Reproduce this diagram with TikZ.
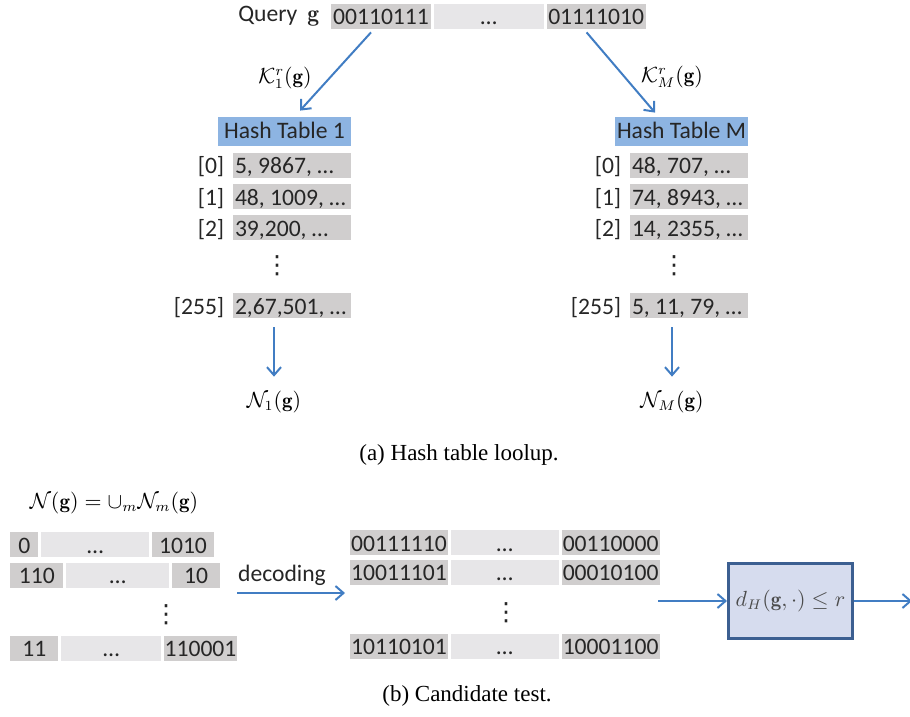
\documentclass[tikz,border=0pt]{standalone}
\usepackage{amsmath}
\usepackage{amssymb}
\usepackage{fontspec}
\usepackage{tikz}
\usetikzlibrary{arrows.meta,positioning}
\newfontfamily\calibri[Numbers=Monospaced]{Carlito}
\newfontfamily\timesf{Liberation Serif}
\newfontfamily\dejavu{DejaVu Sans}
\definecolor{celldark}{RGB}{208,206,206}
\definecolor{celllight}{RGB}{231,230,232}
\definecolor{hdrblue}{RGB}{141,180,226}
\definecolor{arrowblue}{RGB}{65,125,195}
\definecolor{boxfill}{RGB}{214,220,238}
\definecolor{boxline}{RGB}{60,95,145}
\newcommand{\cellfont}{\calibri\fontsize{11.8}{13}\selectfont}
\newcommand{\mathsz}{\fontsize{10.5}{12}\selectfont}
\newcommand{\capfont}{\timesf\fontsize{11.5}{13}\selectfont}
\newcommand{\hrow}[1]{\makebox[57pt][l]{#1}}
\tikzstyle{dcell} = [rectangle, fill=celldark, inner sep=0pt, minimum height=12.5pt, text height=10.5pt, text depth=2pt, text=black!85, font=\cellfont]
\tikzstyle{lcell} = [dcell, fill=celllight]
\tikzstyle{hcell} = [dcell, inner xsep=1pt, minimum width=59pt]
\tikzstyle{hdr} = [rectangle, fill=hdrblue, inner sep=0pt, minimum width=66.5pt, text height=11pt, text depth=3.5pt, text=black!85, font=\cellfont]
\tikzstyle{idx} = [inner sep=0pt, text height=10.5pt, text depth=2pt, text=black!85, font=\cellfont]
\tikzstyle{mlabel} = [inner sep=0pt, font=\mathsz]
\tikzstyle{vdots} = [inner sep=0pt, text=black!85, font=\dejavu\fontsize{12.5}{14}\selectfont]
\tikzstyle{testbox} = [rectangle, draw=boxline, line width=1.5pt, fill=boxfill, minimum width=62pt, minimum height=37.5pt, font=\mathsz, text=black!70]
\tikzstyle{arrow} = [line width=1pt, -{Straight Barb[length=4pt,width=7pt]}, color=arrowblue]

\begin{document}
\begin{tikzpicture}[x=0.5pt, y=-0.5pt]
\useasboundingbox (0,0) rectangle (910,717);

% Query code
\node (qa) [dcell, minimum width=50pt] at (381,16.5) {00110111};
\node (qb) [lcell, minimum width=55pt, right=1pt of qa] {…};
\node (qc) [dcell, minimum width=49.5pt, right=1pt of qb] {01111010};
\node (query) [idx, left=5.5pt of qa, yshift=1.5pt] {Query\hspace{5pt}$\mathbf{g}$};

% Hash table 1
\node (h1) [hdr] at (284.5,131.5) {Hash Table 1};
\node (h1r0) [hcell, below=3pt of h1.south east, anchor=north east] {\hrow{5, 9867, …}};
\node (h1r1) [hcell, below=2.75pt of h1r0] {\hrow{48, 1009, …}};
\node (h1r2) [hcell, below=2.75pt of h1r1] {\hrow{39,200, …}};
\node (h1r255) [hcell, below=26pt of h1r2] {\hrow{2,67,501, …}};
\node (h1i0) [idx, left=4pt of h1r0] {[0]};
\node (h1i1) [idx, left=4pt of h1r1] {[1]};
\node (h1i2) [idx, left=4pt of h1r2] {[2]};
\node (h1i255) [idx, left=4pt of h1r255] {[255]};
\node (h1dots) [vdots] at (277,266) {⋮};

% Hash table M
\node (hM) [hdr] at (681.5,131.5) {Hash Table M};
\node (hMr0) [hcell, below=3pt of hM.south east, anchor=north east] {\hrow{48, 707, …}};
\node (hMr1) [hcell, below=2.75pt of hMr0] {\hrow{74, 8943, …}};
\node (hMr2) [hcell, below=2.75pt of hMr1] {\hrow{14, 2355, …}};
\node (hMr255) [hcell, below=26pt of hMr2] {\hrow{5, 11, 79, …}};
\node (hMi0) [idx, left=4pt of hMr0] {[0]};
\node (hMi1) [idx, left=4pt of hMr1] {[1]};
\node (hMi2) [idx, left=4pt of hMr2] {[2]};
\node (hMi255) [idx, left=4pt of hMr255] {[255]};
\node (hMdots) [vdots] at (674,266) {⋮};

% Lookup arrows
\draw[arrow] ([xshift=-5pt,yshift=-1.5pt]qa.south) -- ([xshift=7.75pt,yshift=3pt]h1.north);
\draw[arrow] ([xshift=-4.75pt,yshift=-1.5pt]qc.south) -- ([xshift=-13.25pt,yshift=2pt]hM.north);
\node (k1) [mlabel] at (285,78) {$\mathcal{K}_1^r(\mathbf{g})$};
\node (kM) [mlabel] at (672,77) {$\mathcal{K}_M^r(\mathbf{g})$};

% Neighbour sets
\coordinate (d1) at (274,327);
\coordinate (dM) at (672,327);
\node (n1) [mlabel, inner ysep=7pt] at (274,402) {$\mathcal{N}_1(\mathbf{g})$};
\node (nM) [mlabel, inner ysep=7pt] at (672,402) {$\mathcal{N}_M(\mathbf{g})$};
\draw[arrow] (d1) -- (n1);
\draw[arrow] (dM) -- (nM);

\node (capa) [font=\capfont, inner sep=0pt] at (459,455) {(a) Hash table loolup.};

% Candidate codes
\node (nall) [mlabel] at (114,503) {$\mathcal{N}(\mathbf{g}) = \cup_m \mathcal{N}_m(\mathbf{g})$};
\node (la1) [dcell, minimum width=14pt, anchor=west] at (10,544.5) {0};
\node (la2) [lcell, minimum width=54pt, right=1pt of la1] {…};
\node (la3) [dcell, minimum width=31pt, right=1pt of la2] {1010};
\node (lb1) [dcell, minimum width=26.5pt, below=2.5pt of la1.south west, anchor=north west] {110};
\node (lb2) [lcell, minimum width=51.5pt, right=1pt of lb1] {…};
\node (lb3) [dcell, minimum width=24pt, right=1pt of lb2] {10};
\node (ldots) [vdots] at (166,615) {⋮};
\node (lc1) [dcell, minimum width=24pt, below=23.5pt of lb1.south west, anchor=north west] {11};
\node (lc2) [lcell, minimum width=50pt, right=1pt of lc1] {…};
\node (lc3) [dcell, minimum width=36.5pt, right=1pt of lc2] {110001};

% Decoding
\coordinate (dec0) at (237,593);
\coordinate (dec1) at (345,593);
\draw[arrow] (dec0) -- node[above=3pt, xshift=-4.5pt, inner sep=0pt, text=black!85, font=\cellfont] (declab) {decoding} (dec1);

% Decoded codes
\node (ma1) [dcell, minimum width=49pt] at (399,542.5) {00111110};
\node (ma2) [lcell, minimum width=54pt, right=1pt of ma1] {…};
\node (ma3) [dcell, minimum width=49pt, right=1pt of ma2] {00110000};
\node (mb1) [dcell, minimum width=49pt, below=2pt of ma1] {10011101};
\node (mb2) [lcell, minimum width=54pt, right=1pt of mb1] {…};
\node (mb3) [dcell, minimum width=49pt, right=1pt of mb2] {00010100};
\node (mdots) [vdots] at (506,613) {⋮};
\node (mc1) [dcell, minimum width=49pt, below=24pt of mb1] {10110101};
\node (mc2) [lcell, minimum width=54pt, right=1pt of mc1] {…};
\node (mc3) [dcell, minimum width=49pt, right=1pt of mc2] {10001100};

% Hamming test
\node (test) [testbox] at (790.5,601) {$d_H(\mathbf{g},\cdot) \le r$};
\coordinate (tin) at (658,601);
\coordinate (tout) at (912,601);
\draw[arrow] (tin) -- (test);
\draw[arrow] (test) -- (tout);

\node (capb) [font=\capfont, inner sep=0pt] at (467,696) {(b) Candidate test.};
\end{tikzpicture}
\end{document}
